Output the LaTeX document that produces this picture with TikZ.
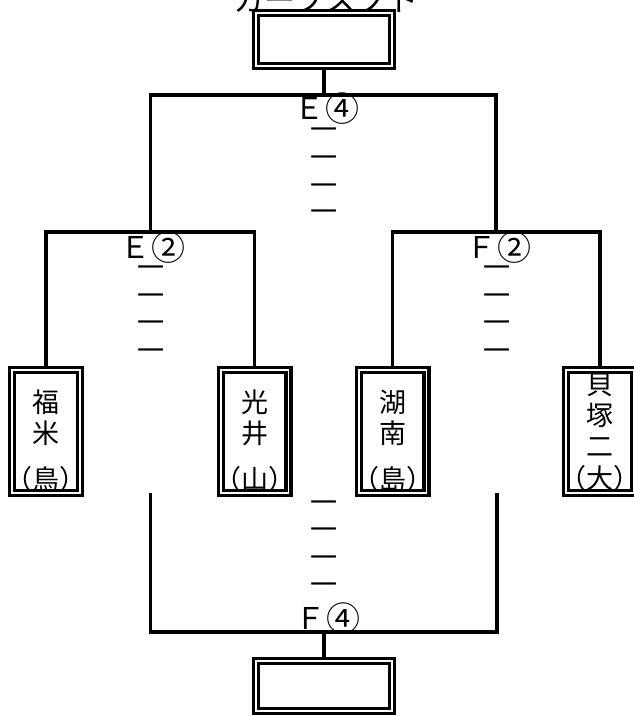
\documentclass[tikz,border=0pt]{standalone}
\usepackage{fontspec}
\usetikzlibrary{backgrounds}
\newfontfamily\jp{Noto Sans CJK JP}
\newcommand\rnd[1]{\kern0.5pt\raisebox{-2.5pt}[10pt][0pt]{\fontsize{34}{34}\selectfont #1}}
\tikzset{
	teambox/.style={draw,double,double distance=1.7pt,line width=3.3pt,fill=white,inner sep=0pt,minimum width=67.7pt,minimum height=122.7pt},
	cupbox/.style={draw,double,double distance=1.7pt,line width=3.3pt,fill=white,inner sep=0pt,minimum width=135.7pt},
	tline/.style={line width=3.3pt},
	vname/.style={align=center,inner sep=0pt},
	game/.style={font=\jp\fontsize{30}{30}\selectfont},
	every node/.append style={inner sep=0pt},
}
\begin{document}
\begin{tikzpicture}[x=1pt,y=-1pt,font=\jp\fontsize{27}{31}\selectfont]
	\useasboundingbox (0,0) rectangle (633,716);
	\node[anchor=base,font=\jp\fontsize{31}{31}\selectfont] (title) at (326,11) {カーブスソト};
	% winner boxes
	\node[cupbox,minimum height=52.7pt] (top) at (324,39.5) {};
	\node[cupbox,minimum height=49.7pt] (bot) at (324,686) {};
	% teams
	\node[teambox] (fukuyone) at (46,431.5) {};
	\node[vname] (fukuyoneN) at (46,417.5) {福\\米};
	\node (fukuyoneP) at (46,479) {（鳥）};
	\node[teambox] (mitsui) at (254.5,431.5) {};
	\node[vname] (mitsuiN) at (254.5,417.5) {光\\井};
	\node (mitsuiP) at (254.5,479) {（山）};
	\node[teambox] (konan) at (392.5,431.5) {};
	\node[vname] (konanN) at (392.5,417.5) {湖\\南};
	\node (konanP) at (392.5,479) {（島）};
	\node[teambox] (kaizuka) at (600,431.5) {};
	\node[vname] (kaizukaN) at (600,415) {貝\\塚\\二};
	\node (kaizukaP) at (600,478) {（大）};
	% junctions
	\coordinate (jE2) at (150.5,232);
	\coordinate (jF2) at (496,232);
	\coordinate (jE4) at (324,95);
	\coordinate (jF4) at (324,632);
	\coordinate (lb) at (150.5,493);
	\coordinate (rb) at (497,493);
	\begin{scope}[on background layer]
		\draw[tline] (fukuyone.north) |- (jE2) -| (mitsui.north);
		\draw[tline] (konan.north) |- (jF2) -| (kaizuka.north);
		\draw[tline] (jE2) |- (jE4) -| (jF2);
		\draw[tline] (jE4) -- (top.south);
		\draw[tline] (lb) |- (jF4) -| (rb);
		\draw[tline] (jF4) -- (bot.north);
	\end{scope}
	% match labels
	\node[game] (mE4) at (327,108) {Ｅ\rnd{④}};
	\node[game] (mE2) at (153,247) {Ｅ\rnd{②}};
	\node[game] (mF2) at (499,247) {Ｆ\rnd{②}};
	\node[game] (mF4) at (328,618) {Ｆ\rnd{④}};
	\foreach \y [count=\i] in {134,162,190,216} \node (dE4-\i) at (324,\y) {一};
	\foreach \y [count=\i] in {272,300,327,355} \node (dE2-\i) at (151,\y) {一};
	\foreach \y [count=\i] in {272,300,327,355} \node (dF2-\i) at (497,\y) {一};
	\foreach \y [count=\i] in {507,534,562,589} \node (dF4-\i) at (324,\y) {一};
\end{tikzpicture}
\end{document}
